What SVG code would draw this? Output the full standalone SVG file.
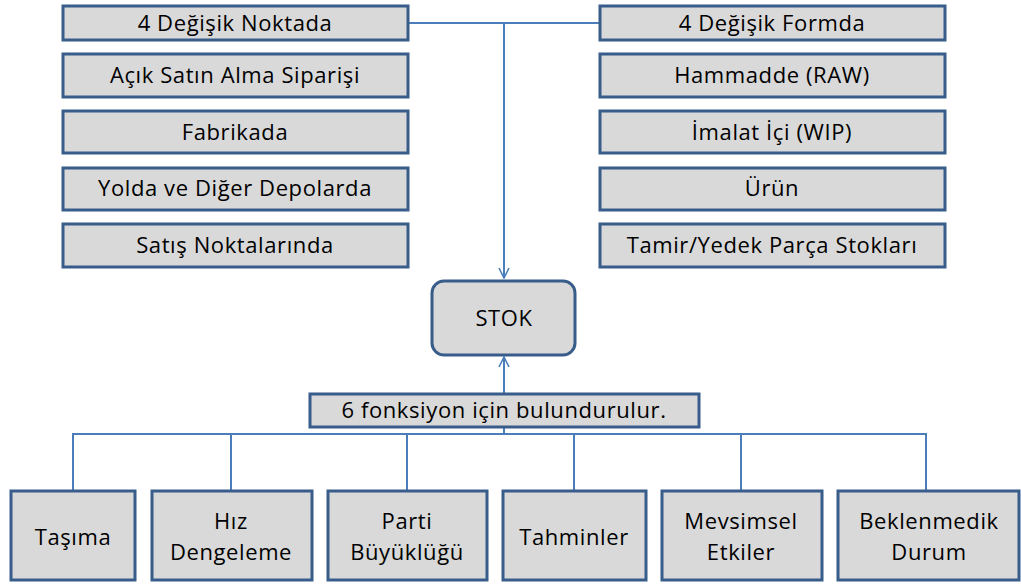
<svg xmlns="http://www.w3.org/2000/svg" width="1021" height="585" viewBox="0 0 1021 585">
<style>
.b{fill:#d9d9d9;stroke:#385d8a;stroke-width:3}
.t{font-family:"Open Sans","Liberation Sans",sans-serif;font-size:22px;letter-spacing:0.6px;fill:#000;text-anchor:middle}
.c{fill:none;stroke:#4a7ebb;stroke-width:2}
</style>
<defs>
<marker id="a" viewBox="0 0 12 12" refX="11" refY="6" markerWidth="12" markerHeight="12" markerUnits="userSpaceOnUse" orient="auto">
<polyline points="1,1 11,6 1,11" fill="none" stroke="#4a7ebb" stroke-width="1.6"/>
</marker>
</defs>
<g id="connectors">
<polyline class="c" points="408,23 601,23"/>
<line class="c" x1="504" y1="23" x2="504" y2="278" marker-end="url(#a)"/>
<line class="c" x1="504" y1="393" x2="504" y2="357" marker-end="url(#a)"/>
<line class="c" x1="504" y1="427" x2="504" y2="434"/>
<polyline class="c" points="73,490 73,434 926,434 926,490"/>
<line class="c" x1="231" y1="434" x2="231" y2="490"/>
<line class="c" x1="407" y1="434" x2="407" y2="490"/>
<line class="c" x1="574" y1="434" x2="574" y2="490"/>
<line class="c" x1="741" y1="434" x2="741" y2="490"/>
</g>
<g id="l1"><rect class="b" x="63" y="6" width="345" height="34"/><text class="t" x="235" y="31">4 Değişik Noktada</text></g>
<g id="l2"><rect class="b" x="63" y="54" width="345" height="43"/><text class="t" x="235" y="83">Açık Satın Alma Siparişi</text></g>
<g id="l3"><rect class="b" x="63" y="111" width="345" height="42"/><text class="t" x="235" y="140">Fabrikada</text></g>
<g id="l4"><rect class="b" x="63" y="168" width="345" height="42"/><text class="t" x="235" y="196">Yolda ve Diğer Depolarda</text></g>
<g id="l5"><rect class="b" x="63" y="224" width="345" height="43"/><text class="t" x="235" y="253">Satış Noktalarında</text></g>
<g id="r1"><rect class="b" x="600" y="6" width="345" height="34"/><text class="t" x="772" y="31">4 Değişik Formda</text></g>
<g id="r2"><rect class="b" x="600" y="54" width="345" height="43"/><text class="t" x="772" y="83">Hammadde (RAW)</text></g>
<g id="r3"><rect class="b" x="600" y="111" width="345" height="42"/><text class="t" x="772" y="140">İmalat İçi (WIP)</text></g>
<g id="r4"><rect class="b" x="600" y="168" width="345" height="42"/><text class="t" x="772" y="196">Ürün</text></g>
<g id="r5"><rect class="b" x="600" y="224" width="345" height="43"/><text class="t" x="772" y="253">Tamir/Yedek Parça Stokları</text></g>
<g id="stok"><rect class="b" x="432" y="281" width="143" height="74" rx="12"/><text class="t" x="504" y="326">STOK</text></g>
<g id="fonk"><rect class="b" x="310" y="394" width="389" height="33"/><text class="t" x="504" y="418">6 fonksiyon için bulundurulur.</text></g>
<g id="b1"><rect class="b" x="11" y="491" width="124" height="89"/><text class="t" x="73" y="545">Taşıma</text></g>
<g id="b2"><rect class="b" x="152" y="491" width="160" height="89"/><text class="t" x="231" y="529">Hız</text><text class="t" x="231" y="560">Dengeleme</text></g>
<g id="b3"><rect class="b" x="328" y="491" width="159" height="89"/><text class="t" x="407" y="529">Parti</text><text class="t" x="407" y="560">Büyüklüğü</text></g>
<g id="b4"><rect class="b" x="503" y="491" width="143" height="89"/><text class="t" x="574" y="545">Tahminler</text></g>
<g id="b5"><rect class="b" x="662" y="491" width="160" height="89"/><text class="t" x="741" y="529">Mevsimsel</text><text class="t" x="741" y="560">Etkiler</text></g>
<g id="b6"><rect class="b" x="838" y="491" width="181" height="89"/><text class="t" x="929" y="529">Beklenmedik</text><text class="t" x="929" y="560">Durum</text></g>
</svg>
